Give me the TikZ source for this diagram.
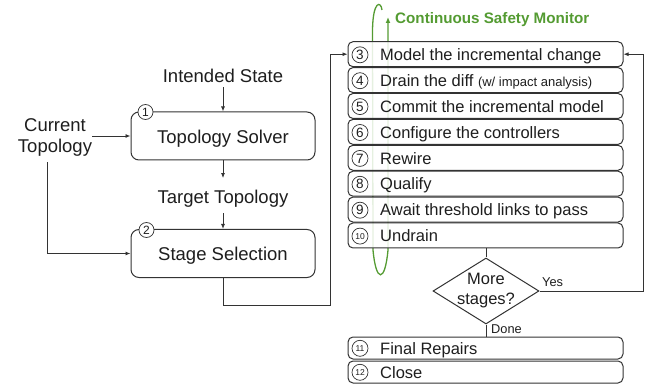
\documentclass[tikz,border=0pt]{standalone}
\usepackage{fontspec}
\setmainfont{Liberation Sans}
\usetikzlibrary{shapes.geometric,arrows.meta,calc}
\definecolor{linegray}{RGB}{51,51,51}
\definecolor{txt}{RGB}{30,30,30}
\definecolor{mongreen}{RGB}{84,155,50}
\begin{document}
\begin{tikzpicture}[x=1pt,y=-1pt,
  arr/.style={draw=linegray, line width=0.9pt, -{Latex[length=5pt,width=4pt]}},
  ln/.style={draw=linegray, line width=0.9pt},
  bigbox/.style={draw=linegray, line width=1pt, rounded corners=8pt, fill=white, minimum width=184pt, minimum height=48pt, inner sep=0pt},
  rbox/.style={draw=linegray, line width=1pt, rounded corners=5pt, fill=white, fill opacity=0.85, minimum width=275pt, minimum height=25pt, inner sep=0pt},
  sbox/.style={rbox, minimum height=22pt},
  big/.style={font=\fontsize{18.5}{21}\selectfont, text=txt, inner sep=0pt},
  mid/.style={font=\fontsize{16.5}{20}\selectfont, text=txt, inner sep=0pt, anchor=base west},
  small/.style={font=\fontsize{12.8}{15}\selectfont, text=txt, inner sep=0pt, anchor=base west},
  num/.style={circle, draw=linegray, line width=0.7pt, fill=white, minimum size=16pt, inner sep=0pt, text=txt, font=\fontsize{13.5}{13.5}\selectfont},
  numsm/.style={num, font=\fontsize{8.5}{8.5}\selectfont},
  lnum/.style={num, minimum size=15pt, font=\fontsize{12}{12}\selectfont},
]
\useasboundingbox (0,0) rectangle (646,385);

% continuous safety monitor loop (drawn behind the boxes)
\draw[mongreen, line width=1.3pt, -{Latex[length=6pt,width=5pt]}]
  (382,10) .. controls (381,1) and (373,0) .. (372.5,30) -- (373,250)
  .. controls (376,283) and (385,283) .. (388,250) -- (388,17);
\node[font=\bfseries\fontsize{15.2}{18}\selectfont, text=mongreen, anchor=base west, inner sep=0pt] (gm) at (395,24) {Continuous Safety Monitor};

% left part
\node[big, anchor=base, text depth=4.7pt] (is) at (223,82.3) {Intended State};
\node[bigbox] (ts) at (223,136) {};
\node[big, anchor=base] (tsl) at (223,144) {Topology Solver};
\node[lnum] (c1) at (145.5,112) {1};
\node[big, anchor=base, text height=25pt, text depth=10pt] (tt) at (223,203.3) {Target Topology};
\node[bigbox] (ss) at (223,253.5) {};
\node[big, anchor=base] (ssl) at (223,261) {Stage Selection};
\node[lnum] (c2) at (146.5,230) {2};
\node[big, align=center, inner xsep=0pt, inner ysep=6pt] (ct) at (55,137) {Current\\Topology};

% right boxes
\foreach \i/\y/\t in {3/54.2/{Model the incremental change},
  4/80.1/{Drain the diff {\fontsize{13}{15}\selectfont(w/ impact analysis)}},
  5/106/{Commit the incremental model},
  6/131.9/{Configure the controllers},
  7/157.8/{Rewire},
  8/183.7/{Qualify},
  9/209.6/{Await threshold links to pass}} {
  \node[rbox] (b\i) at (485.5,\y) {};
  \node[num] (n\i) at (360,\y+0.6) {\i};
  \node[mid] (t\i) at (380,\y+6.3) {\t};
}
\node[rbox] (b10) at (485.5,235.5) {};
\node[numsm] (n10) at (360,236.1) {10};
\node[mid] (t10) at (380,241.8) {Undrain};

\node[sbox] (b11) at (485.5,348) {};
\node[numsm] (n11) at (360,348.3) {11};
\node[mid] (t11) at (380,354.5) {Final Repairs};
\node[sbox] (b12) at (485.5,372) {};
\node[numsm] (n12) at (360,372.3) {12};
\node[mid] (t12) at (380,378.5) {Close};

% decision
\node[diamond, draw=linegray, line width=1pt, fill=white, minimum width=106pt, minimum height=66pt, inner sep=0pt] (dm) at (486,291) {};
\node[font=\fontsize{16.5}{20}\selectfont, text=txt, align=center, inner sep=0pt] (dmt) at (486,291) {More\\stages?};
\node[small] (yes) at (542,287) {Yes};
\node[small] (done) at (491,333) {Done};

% connectors
\coordinate (j1) at (330,305);
\coordinate (j2) at (643,291);
\draw[arr] (is) -- (ts);
\draw[arr] (ts) -- (tt);
\draw[arr] (tt) -- (ss);
\draw[arr] (ct.east |- ts.west) -- (ts.west);
\draw[arr] ([xshift=-8pt]ct.south) |- (ss.west);
\draw[arr] (ss.south) |- (j1) |- (b3.west);
\draw[ln] (b10.south -| dm.north) -- (dm.north);
\draw[arr] (dm.east) -- (j2) |- (b3.east);
\draw[ln] (dm.south) -- (dm.south |- b11.north);
\end{tikzpicture}
\end{document}
